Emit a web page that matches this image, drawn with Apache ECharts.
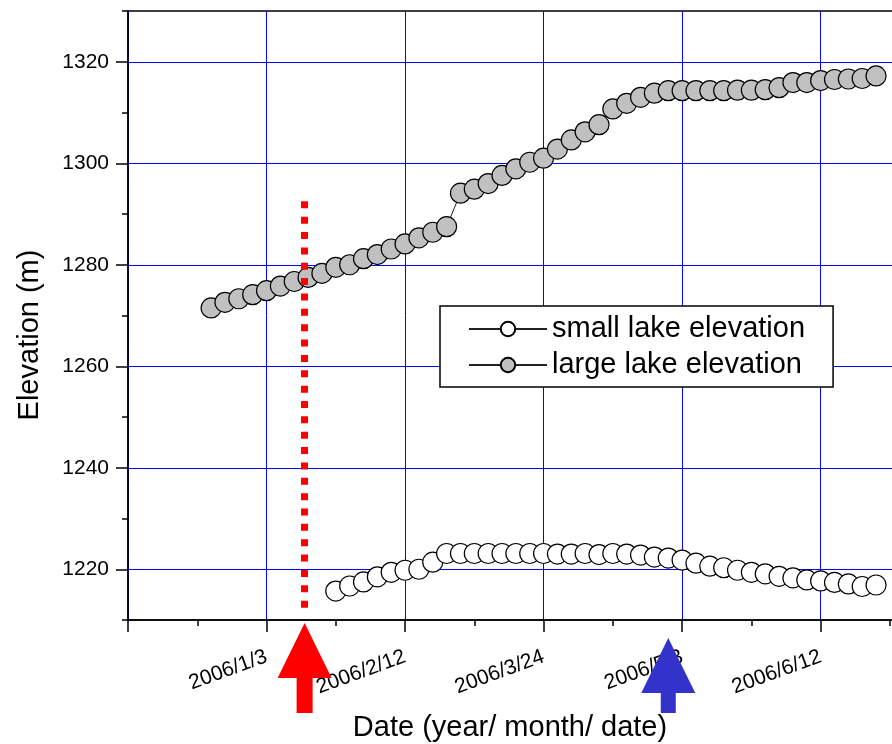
<!DOCTYPE html>
<html><head><meta charset="utf-8">
<script src="https://cdn.jsdelivr.net/npm/echarts@6/dist/echarts.min.js"></script>
<style>html,body{margin:0;padding:0;background:#fff;overflow:hidden;width:892px;height:744px}#c{width:962px;height:744px}</style>
</head><body><div id="c"></div>
<script>
const largeDates = ['2005/12/18','2005/12/22','2005/12/26','2005/12/30','2006/1/3','2006/1/7','2006/1/11','2006/1/15','2006/1/19','2006/1/23',
  '2006/1/27','2006/1/31','2006/2/4','2006/2/8','2006/2/12','2006/2/16','2006/2/20','2006/2/24','2006/2/28','2006/3/4',
  '2006/3/8','2006/3/12','2006/3/16','2006/3/20','2006/3/24','2006/3/28','2006/4/1','2006/4/5','2006/4/9','2006/4/13',
  '2006/4/17','2006/4/21','2006/4/25','2006/4/29','2006/5/3','2006/5/7','2006/5/11','2006/5/15','2006/5/19','2006/5/23',
  '2006/5/27','2006/5/31','2006/6/4','2006/6/8','2006/6/12','2006/6/16','2006/6/20','2006/6/24','2006/6/28'];
const largeElev = [1271.5,1272.6,1273.3,1274.1,1274.9,1275.8,1276.7,1277.5,1278.3,1279.5,
  1280.0,1281.2,1282.0,1283.1,1284.1,1285.3,1286.4,1287.5,1294.1,1294.9,
  1296.0,1297.6,1298.9,1300.2,1301.0,1302.8,1304.6,1306.2,1307.6,1310.7,
  1311.8,1313.0,1313.8,1314.3,1314.3,1314.3,1314.3,1314.3,1314.4,1314.4,
  1314.5,1314.9,1315.9,1315.9,1316.3,1316.5,1316.6,1316.7,1317.2];
const smallDates = ['2006/1/23','2006/1/27','2006/1/31','2006/2/4','2006/2/8','2006/2/12','2006/2/16','2006/2/20','2006/2/24','2006/2/28',
  '2006/3/4','2006/3/8','2006/3/12','2006/3/16','2006/3/20','2006/3/24','2006/3/28','2006/4/1','2006/4/5','2006/4/9',
  '2006/4/13','2006/4/17','2006/4/21','2006/4/25','2006/4/29','2006/5/3','2006/5/7','2006/5/11','2006/5/15','2006/5/19',
  '2006/5/23','2006/5/27','2006/5/31','2006/6/4','2006/6/8','2006/6/12','2006/6/16','2006/6/20','2006/6/24','2006/6/28'];
const smallElev = [1215.7,1216.7,1217.5,1218.5,1219.4,1219.8,1220.0,1221.4,1223.1,1223.1,
  1223.1,1223.1,1223.1,1223.1,1223.1,1223.1,1223.0,1223.0,1223.1,1222.9,
  1223.1,1223.0,1222.8,1222.4,1222.2,1221.8,1221.2,1220.6,1220.3,1219.8,
  1219.4,1219.1,1218.6,1218.3,1217.9,1217.7,1217.4,1217.1,1216.6,1216.9];
const xTickLabels = ['2006/1/3','2006/2/12','2006/3/24','2006/5/3','2006/6/12'];
const yTickLabels = [1220,1240,1260,1280,1300,1320];
const refDate = '2006/1/3';
const redEventDate = '2006/1/14';
const blueEventDate = '2006/4/29';
const redLineRange = [1292.5, 1212.4];

function dayOf(s){const p=s.split('/').map(Number);const r=refDate.split('/').map(Number);
  return Math.round((Date.UTC(p[0],p[1]-1,p[2])-Date.UTC(r[0],r[1]-1,r[2]))/86400000);}
const FONT='Liberation Sans';
const chart = echarts.init(document.getElementById('c'), null, {renderer:'canvas'});
const smallData = smallDates.map((d,i)=>[dayOf(d), smallElev[i]]);
const largeData = largeDates.map((d,i)=>[dayOf(d), largeElev[i]]);
const redDay = dayOf(redEventDate), blueDay = dayOf(blueEventDate);

const titles = [
  {type:'text', x:30, y:335, rotation:Math.PI/2, z:100,
    style:{text:'Elevation (m)', fontSize:29, fontFamily:FONT, fill:'#000', align:'center', verticalAlign:'middle', textAlign:'center', textVerticalAlign:'middle'}},
  {type:'text', x:510, y:728, z:100,
    style:{text:'Date (year/ month/ date)', fontSize:29, fontFamily:FONT, fill:'#000', align:'center', verticalAlign:'middle', textAlign:'center', textVerticalAlign:'middle'}}
];

chart.setOption({
  animation:false,
  grid:{left:128, top:11, bottom:124, right:0, show:true, borderColor:'#000', borderWidth:1.5, backgroundColor:'transparent'},
  xAxis:{type:'value', min:-40, max:200, interval:40,
    axisLine:{onZero:false, lineStyle:{color:'#000', width:1.5}},
    axisTick:{length:12, lineStyle:{color:'#000', width:1.5}},
    minorTick:{show:true, splitNumber:2, length:6, lineStyle:{color:'#000', width:1.5}},
    splitLine:{show:true, lineStyle:{color:'#0000ff', width:1}},
    axisLabel:{rotate:20, margin:36, fontSize:21, fontFamily:FONT, color:'#000',
      formatter:v=>{const s=xTickLabels.find(t=>dayOf(t)===v);return s||'';}}
  },
  yAxis:[
    {type:'value', position:'left', min:1210, max:1330, interval:20,
      axisLine:{show:true, onZero:false, lineStyle:{color:'#000', width:1.5}},
      axisTick:{show:true, length:6, lineStyle:{color:'#000', width:1.5}},
      minorTick:{show:true, splitNumber:2, length:12, lineStyle:{color:'#000', width:1.5}},
      splitLine:{show:false},
      minorSplitLine:{show:true, lineStyle:{color:'#0000ff', width:1}},
      axisLabel:{show:false}
    },
    {type:'value', position:'left', offset:0, min:1210, max:1330, splitNumber:6,
      axisLine:{show:false, onZero:false}, axisTick:{show:false}, splitLine:{show:false},
      axisLabel:{show:true, margin:19, fontSize:21, fontFamily:FONT, color:'#000', showMinLabel:false, showMaxLabel:false,
        formatter:v=>yTickLabels.includes(v)?String(v):''}
    }
  ],
  legend:{left:440, top:306, orient:'vertical', itemWidth:78, itemHeight:18, itemGap:6,
    padding:[8,28,7,28], backgroundColor:'#fff', borderColor:'#000', borderWidth:1.5,
    textStyle:{fontSize:29, fontFamily:FONT, color:'#000', lineHeight:30},
    data:['small lake elevation','large lake elevation']},
  series:[
    {name:'small lake elevation', type:'line', yAxisIndex:0, data:smallData, symbol:'circle', symbolSize:20,
      lineStyle:{color:'#222', width:1}, itemStyle:{color:'#fff', borderColor:'#000', borderWidth:1.2},
      emphasis:{disabled:true}, z:3},
    {name:'large lake elevation', type:'line', yAxisIndex:0, data:largeData, symbol:'circle', symbolSize:20,
      lineStyle:{color:'#222', width:1}, itemStyle:{color:'#c0c0c0', borderColor:'#000', borderWidth:1.2},
      emphasis:{disabled:true}, z:3,
      markLine:{silent:true, symbol:'none', z:10, label:{show:false},
        lineStyle:{color:'#ff0000', width:7, type:[7,8.36], opacity:1},
        data:[[{coord:[redDay, redLineRange[0]]},{coord:[redDay, redLineRange[1]]}]]}
    }
  ],
  graphic:titles
});

function arrow(cx, tipY, baseY, halfHead, halfShaft, bottomY){
  return [[cx,tipY],[cx+halfHead,baseY],[cx+halfShaft,baseY],[cx+halfShaft,bottomY],[cx-halfShaft,bottomY],[cx-halfShaft,baseY],[cx-halfHead,baseY]];
}
const rx = chart.convertToPixel({xAxisIndex:0}, redDay);
const bx = chart.convertToPixel({xAxisIndex:0}, blueDay);
chart.setOption({graphic:titles.concat([
  {type:'polygon', z:200, shape:{points:arrow(rx, 623, 678, 27, 8, 713)}, style:{fill:'#ff0000'}},
  {type:'polygon', z:200, shape:{points:arrow(bx, 638, 693, 27, 7.5, 713)}, style:{fill:'#3333cc'}}
])});
</script></body></html>
